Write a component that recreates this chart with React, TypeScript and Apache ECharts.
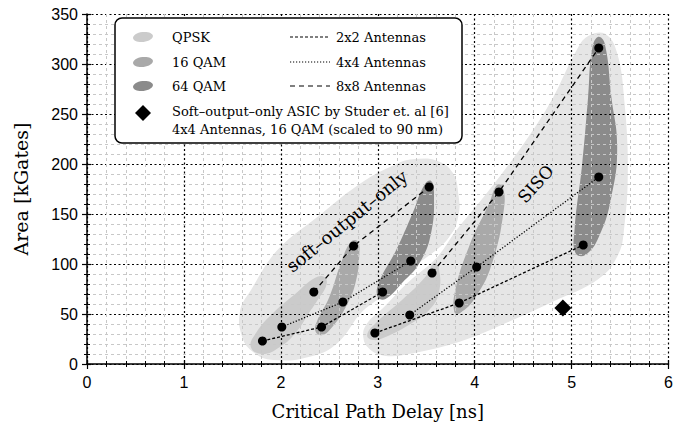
import React, { useEffect, useRef } from "react";
import * as echarts from "echarts";

// ---- data (x: critical path delay [ns], y: area [kGates]) ----
const soft2x2 = [[1.81, 23], [2.42, 37], [3.05, 72]];
const soft4x4 = [[2.01, 37], [2.64, 62], [3.34, 103]];
const soft8x8 = [[2.34, 72], [2.75, 118], [3.53, 177]];
const siso2x2 = [[2.97, 31], [3.84, 61], [5.12, 119]];
const siso4x4 = [[3.33, 49], [4.02, 97], [5.28, 187]];
const siso8x8 = [[3.56, 91], [4.25, 172], [5.28, 316]];
const studerASIC = [[4.91, 56]];

// region outlines (data coordinates)
const softEnvelope = [[1.57, 54], [1.59, 27], [1.71, 11], [1.92, 3], [2.33, 7], [2.6, 21], [2.84, 51], [3.05, 67], [3.39, 97], [3.73, 124], [3.84, 147], [3.84, 171], [3.78, 192], [3.62, 204], [3.39, 206], [3.19, 201], [2.81, 181], [2.36, 147], [1.95, 114], [1.68, 74]];
const sisoEnvelope = [[2.84, 27], [2.91, 14], [3.08, 7], [3.32, 9], [3.84, 21], [4.35, 41], [4.87, 64], [5.28, 84], [5.48, 107], [5.55, 134], [5.59, 201], [5.55, 267], [5.48, 311], [5.35, 331], [5.17, 329], [5.04, 314], [4.8, 267], [4.59, 234], [4.35, 201], [4.08, 167], [3.8, 134], [3.6, 107], [3.29, 81], [3.05, 57], [2.88, 41]];
const softQPSK = [[1.69, 17], [1.75, 32], [1.92, 51], [2.16, 71], [2.35, 86], [2.45, 87], [2.47, 79], [2.38, 64], [2.29, 51], [2.16, 32], [1.99, 17], [1.81, 10]];
const soft16QAM = [[2.36, 32], [2.37, 42], [2.5, 67], [2.62, 101], [2.72, 122], [2.79, 123], [2.81, 111], [2.77, 81], [2.67, 57], [2.53, 37], [2.43, 29]];
const soft64QAM = [[3.0, 67], [3.01, 81], [3.19, 114], [3.36, 151], [3.48, 179], [3.55, 183], [3.58, 171], [3.55, 131], [3.43, 101], [3.25, 81], [3.08, 65]];
const sisoQPSK = [[2.89, 29], [2.98, 41], [3.25, 64], [3.49, 87], [3.58, 101], [3.63, 96], [3.63, 71], [3.53, 54], [3.32, 39], [3.08, 27], [2.95, 24]];
const siso16QAM = [[3.79, 52], [3.8, 74], [3.94, 117], [4.15, 161], [4.23, 179], [4.29, 177], [4.3, 154], [4.18, 101], [4.01, 67], [3.85, 51]];
const siso64QAM = [[5.04, 111], [5.03, 134], [5.11, 201], [5.17, 267], [5.21, 314], [5.27, 327], [5.34, 321], [5.41, 267], [5.47, 217], [5.41, 167], [5.28, 127], [5.14, 109]];

const regionLabelPos = [[2.68, 143], [4.63, 180]];
const regionLabelText = ["soft–output–only", "SISO"];
const regionLabelAngle = [39, 48];

const modulationNames = ["QPSK", "16 QAM", "64 QAM"];
const antennaNames = ["2x2 Antennas", "4x4 Antennas", "8x8 Antennas"];
const studerText = ["Soft–output–only ASIC by Studer et. al [6]", "4x4 Antennas, 16 QAM (scaled to 90 nm)"];

const ENVELOPE = "#e6e6e6";
const MOD_COLORS = ["#cbcbcb", "#a9a9a9", "#8b8b8b"];
const DASH_2x2 = [3, 2];
const DASH_4x4 = [1.2, 1.8];
const DASH_8x8 = [5, 4];
const SERIF = "DejaVu Serif";
const SANS = "Liberation Sans";

const regions = [
  { outline: softEnvelope, fill: ENVELOPE, stroke: "#ffffff" },
  { outline: sisoEnvelope, fill: ENVELOPE, stroke: "#ffffff" },
  { outline: softQPSK, fill: MOD_COLORS[0], stroke: null },
  { outline: sisoQPSK, fill: MOD_COLORS[0], stroke: null },
  { outline: soft16QAM, fill: MOD_COLORS[1], stroke: null },
  { outline: siso16QAM, fill: MOD_COLORS[1], stroke: null },
  { outline: soft64QAM, fill: MOD_COLORS[2], stroke: null },
  { outline: siso64QAM, fill: MOD_COLORS[2], stroke: null },
];

function lineSeries(data: number[][], dash: number[]) {
  return {
    type: "line",
    data,
    z: 5,
    symbol: "circle",
    symbolSize: 9,
    itemStyle: { color: "#000", opacity: 1 },
    lineStyle: { color: "#000", width: 1.3, type: dash },
  };
}

const innerTicks = (extra: any) => ({
  type: "value", z: 1, ...extra,
  axisLine: { show: false },
  axisLabel: { show: false },
  splitLine: { show: false },
  minorSplitLine: { show: false },
  axisTick: { show: true, inside: true, length: 4, lineStyle: { color: "#000", width: 1.2 } },
  minorTick: { show: true, splitNumber: 5, length: 3, lineStyle: { color: "#000", width: 1 } },
});

export default function App() {
  const ref = useRef<HTMLDivElement>(null);
  useEffect(() => {
    if (!ref.current) return;
    const chart = echarts.init(ref.current, null, { renderer: "svg" });

    const rowY = [37, 62, 86];
    const graphic: any[] = [
      {
        type: "rect", z: 100,
        shape: { x: 115, y: 18, width: 347, height: 125, r: 7 },
        style: { fill: "#fff", stroke: "#000", lineWidth: 1.5 },
      },
    ];
    modulationNames.forEach((name, i) => {
      graphic.push({
        type: "ellipse", z: 101, x: 143, y: rowY[i], rotation: 0.12,
        shape: { cx: 0, cy: 0, rx: 10, ry: 5 },
        style: { fill: MOD_COLORS[i] },
      });
      graphic.push({
        type: "text", z: 101, x: 172, y: rowY[i],
        style: { text: name, fontFamily: SERIF, fontSize: 13, fill: "#000", verticalAlign: "middle" },
      });
    });
    const dashes = [DASH_2x2, DASH_4x4, DASH_8x8];
    antennaNames.forEach((name, i) => {
      graphic.push({
        type: "line", z: 101,
        shape: { x1: 290, y1: rowY[i], x2: 330, y2: rowY[i] },
        style: { stroke: "#000", lineWidth: 1.2, lineDash: dashes[i] },
      });
      graphic.push({
        type: "text", z: 101, x: 336, y: rowY[i],
        style: { text: name, fontFamily: SERIF, fontSize: 13, fill: "#000", verticalAlign: "middle" },
      });
    });
    graphic.push({
      type: "polygon", z: 101,
      shape: { points: [[143, 105], [151, 113], [143, 121], [135, 113]] },
      style: { fill: "#000" },
    });
    graphic.push({
      type: "text", z: 101, x: 172, y: 111,
      style: { text: studerText[0], fontFamily: SERIF, fontSize: 13, fill: "#000", verticalAlign: "middle" },
    });
    graphic.push({
      type: "text", z: 101, x: 172, y: 129,
      style: { text: studerText[1], fontFamily: SERIF, fontSize: 13, fill: "#000", verticalAlign: "middle" },
    });

    const option: any = {
      animation: false,
      backgroundColor: "#fff",
      grid: { left: 87, right: 6, top: 14, bottom: 65 },
      xAxis: [
        {
          type: "value", min: 0, max: 6, interval: 1, z: 1, position: "bottom",
          name: "Critical Path Delay [ns]", nameLocation: "middle", nameGap: 38,
          nameTextStyle: { fontFamily: SERIF, fontSize: 18, color: "#000" },
          axisLine: { show: true, onZero: false, lineStyle: { color: "#000", width: 1.5 } },
          axisTick: { show: true, length: 5, lineStyle: { color: "#000", width: 1.2 } },
          minorTick: { show: true, splitNumber: 5, length: 3, lineStyle: { color: "#000", width: 1 } },
          axisLabel: { fontFamily: SANS, fontSize: 16, color: "#000", margin: 10 },
          splitLine: { show: true, lineStyle: { color: "#000", width: 1.2, type: [2, 2.5] } },
          minorSplitLine: { show: true, lineStyle: { color: "#c8c8c8", width: 1, type: [3, 3] } },
        },
        innerTicks({ min: 0, max: 6, interval: 1, position: "bottom" }),
      ],
      yAxis: [
        {
          type: "value", min: 0, max: 350, interval: 50, z: 1, position: "left",
          name: "Area [kGates]", nameLocation: "middle", nameGap: 57,
          nameTextStyle: { fontFamily: SERIF, fontSize: 19, color: "#000" },
          axisLine: { show: true, onZero: false, lineStyle: { color: "#000", width: 1.5 } },
          axisTick: { show: true, length: 5, lineStyle: { color: "#000", width: 1.2 } },
          minorTick: { show: true, splitNumber: 5, length: 3, lineStyle: { color: "#000", width: 1 } },
          axisLabel: { fontFamily: SANS, fontSize: 16, color: "#000", margin: 9 },
          splitLine: { show: true, lineStyle: { color: "#000", width: 1.2, type: [2, 2.5] } },
          minorSplitLine: { show: true, lineStyle: { color: "#c8c8c8", width: 1, type: [3, 3] } },
        },
        innerTicks({ min: 0, max: 350, interval: 50, position: "left" }),
      ],
      graphic,
      series: [
        {
          type: "custom",
          z: 0,
          clip: true,
          data: regions.map((r) => r.outline[0]),
          renderItem: (params: any, api: any) => {
            const r = regions[params.dataIndex];
            const pts = r.outline.map((p) => api.coord(p));
            return {
              type: "polygon",
              shape: { points: pts, smooth: 0.45 },
              style: r.stroke
                ? { fill: r.fill, stroke: r.stroke, lineWidth: 2 }
                : { fill: r.fill, stroke: "none" },
            };
          },
        },
        lineSeries(soft2x2, DASH_2x2),
        lineSeries(soft4x4, DASH_4x4),
        lineSeries(soft8x8, DASH_8x8),
        lineSeries(siso2x2, DASH_2x2),
        lineSeries(siso4x4, DASH_4x4),
        lineSeries(siso8x8, DASH_8x8),
        {
          type: "scatter", z: 6, data: studerASIC, symbol: "diamond", symbolSize: [17, 17],
          itemStyle: { color: "#000", opacity: 1 },
        },
        {
          type: "custom", z: 4,
          data: regionLabelPos,
          renderItem: (params: any, api: any) => {
            const i = params.dataIndex;
            const p = api.coord(regionLabelPos[i]);
            return {
              type: "text",
              x: p[0], y: p[1],
              rotation: (regionLabelAngle[i] * Math.PI) / 180,
              style: {
                text: regionLabelText[i], fontFamily: SERIF, fontSize: i === 0 ? 18 : 17,
                fill: "#000", align: "center", verticalAlign: "middle",
              },
            };
          },
        },
      ],
    };
    chart.setOption(option);
    return () => chart.dispose();
  }, []);
  return <div ref={ref} style={{ position: "fixed", left: 0, top: 0, width: 676, height: 429 }} />;
}
